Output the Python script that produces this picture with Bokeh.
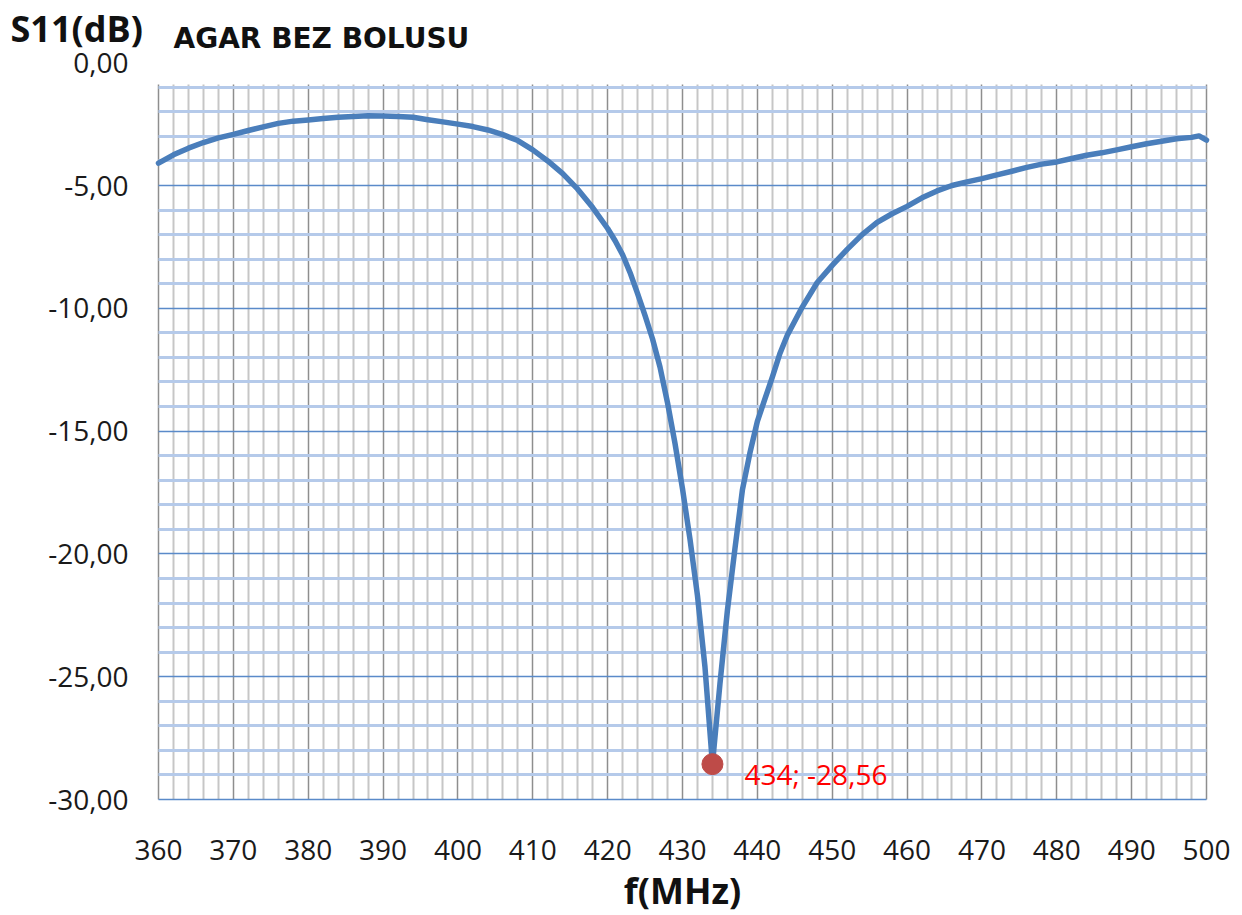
from bokeh.plotting import figure
from bokeh.models import FixedTicker, Label, Range1d
from bokeh.embed import file_html
from bokeh.resources import INLINE
import numpy as np

# Measured return loss of the antenna (no bolus), frequency in MHz, S11 in dB
freq_mhz = [360, 362, 364, 366, 368, 370, 372, 374, 376, 378, 380, 382, 384, 386, 388,
            390, 392, 394, 396, 398, 400, 402, 404, 406, 408, 410, 412, 414, 416, 418,
            420, 421, 422, 423, 424, 425, 426, 427, 428, 429, 430, 431, 432, 433, 434,
            435, 436, 437, 438, 439, 440, 441, 442, 443, 444, 446, 448, 450, 452, 454,
            456, 458, 460, 462, 464, 466, 468, 470, 472, 474, 476, 478, 480, 482, 484,
            486, 488, 490, 492, 494, 496, 498, 499, 500]
s11_db = [-4.09, -3.75, -3.48, -3.25, -3.06, -2.92, -2.76, -2.61, -2.47, -2.38, -2.33, -2.27,
          -2.22, -2.19, -2.16, -2.17, -2.19, -2.22, -2.32, -2.41, -2.50, -2.60, -2.74, -2.93,
          -3.17, -3.55, -4.00, -4.52, -5.15, -5.90, -6.75, -7.25, -7.82, -8.55, -9.40, -10.30,
          -11.25, -12.40, -13.85, -15.50, -17.35, -19.40, -21.70, -24.60, -28.56, -25.30,
          -22.30, -19.80, -17.40, -15.90, -14.60, -13.70, -12.80, -11.85, -11.10, -9.95,
          -8.95, -8.25, -7.60, -7.00, -6.50, -6.15, -5.85, -5.50, -5.22, -5.00, -4.85, -4.72,
          -4.57, -4.42, -4.26, -4.13, -4.04, -3.90, -3.77, -3.67, -3.55, -3.42, -3.30, -3.20,
          -3.10, -3.04, -2.98, -3.15]

# Resonance marker
min_freq = 434
min_s11 = -28.56

# Axis ticks
x_ticks = [360, 370, 380, 390, 400, 410, 420, 430, 440, 450, 460, 470, 480, 490, 500]
y_ticks = [-30, -25, -20, -15, -10, -5, 0]

X_LO, X_HI = 360, 500          # plotted frequency span
Y_LO, Y_TOP = -30, -0.9        # plotted S11 span (gridded area)

TICK_FONT = "Open Sans"
TXT = "#1A1A1A"


def fmt(v):
    return f"{v:.2f}".replace(".", ",")


# The canvas is used as one drawing area; the gridded region sits inside it
# with room for tick labels and titles around it.
W, H = 1242, 915
left_px, right_px, bottom_px = 158, 1206, 799
px_per_mhz = (right_px - left_px) / (X_HI - X_LO)
px_per_db = 24.56
x_range = Range1d(X_LO - left_px / px_per_mhz, X_HI + (W - right_px) / px_per_mhz)
y_range = Range1d(Y_LO - (H - bottom_px) / px_per_db, Y_LO + bottom_px / px_per_db)

p = figure(width=W, height=H, output_backend="svg", toolbar_location=None,
           x_range=x_range, y_range=y_range,
           min_border=0, background_fill_color="white",
           border_fill_color="white")
p.title.visible = False
p.outline_line_color = None

# Grid: 10 MHz / 2 MHz verticals, 5 dB / 1 dB horizontals
x_minor = [v for v in np.arange(X_LO, X_HI + 1, 2).tolist() if v not in x_ticks]
y_grid_major = [t for t in y_ticks if t <= Y_TOP]
y_minor = [v for v in np.arange(Y_LO, Y_TOP, 1).tolist() if v not in y_ticks]

p.xgrid.ticker = FixedTicker(ticks=x_ticks, minor_ticks=x_minor)
p.xgrid.cross_bounds = (Y_LO, Y_TOP)
p.xgrid.grid_line_color = "#8E8E8E"
p.xgrid.grid_line_width = 1.5
p.xgrid.minor_grid_line_color = "#C6C6C6"
p.xgrid.minor_grid_line_width = 2

p.ygrid.ticker = FixedTicker(ticks=y_grid_major, minor_ticks=y_minor)
p.ygrid.cross_bounds = (X_LO, X_HI)
p.ygrid.grid_line_color = "#5A8AC9"
p.ygrid.grid_line_width = 1.6
p.ygrid.minor_grid_line_color = "#B5CAEA"
p.ygrid.minor_grid_line_width = 3

# Axes pinned to the edges of the gridded region
p.xaxis.fixed_location = Y_LO
p.yaxis.fixed_location = X_LO
p.xaxis.ticker = FixedTicker(ticks=x_ticks)
p.yaxis.ticker = FixedTicker(ticks=y_ticks)
p.yaxis.major_label_overrides = {t: fmt(t) for t in y_ticks}
for ax in (p.xaxis[0], p.yaxis[0]):
    ax.major_tick_out = 0
    ax.major_tick_in = 0
    ax.minor_tick_out = 0
    ax.minor_tick_in = 0
    ax.axis_line_color = None
    ax.major_label_text_font = TICK_FONT
    ax.major_label_text_font_size = "28px"
    ax.major_label_text_color = TXT
p.xaxis.major_label_standoff = 40
p.yaxis.major_label_standoff = 30

# S11 curve
p.line(freq_mhz, s11_db, line_color="#4A7EBB", line_width=5.5,
       line_join="round", line_cap="round")

# Minimum point and its label
p.scatter([min_freq], [min_s11], size=21, fill_color="#BE4B48",
          line_color="#BE4B48")
p.add_layout(Label(x=min_freq, y=min_s11, x_offset=32, y_offset=-10,
                   text=f"{min_freq}; {fmt(min_s11)}", text_font=TICK_FONT,
                   text_font_size="28px", text_color="#FF0000",
                   text_baseline="alphabetic", text_align="left"))

# Titles
p.add_layout(Label(x=X_LO, y=0, x_offset=-148, y_offset=34, text="S11(dB)",
                   text_font="Open Sans", text_font_style="bold",
                   text_font_size="36px", text_color="#111111",
                   text_baseline="alphabetic", text_align="left"))
p.add_layout(Label(x=X_LO, y=0, x_offset=15, y_offset=24, text="AGAR BEZ BOLUSU",
                   text_font="DejaVu Sans", text_font_style="bold",
                   text_font_size="28px", text_color="#111111",
                   text_baseline="alphabetic", text_align="left"))
p.add_layout(Label(x=(X_LO + X_HI) / 2, y=Y_LO, y_offset=-91, text="f(MHz)",
                   text_font="Open Sans", text_font_style="bold",
                   text_font_size="36px", text_color="#111111",
                   text_baseline="alphabetic", text_align="center"))

open("out.html", "w").write(file_html(p, INLINE))
